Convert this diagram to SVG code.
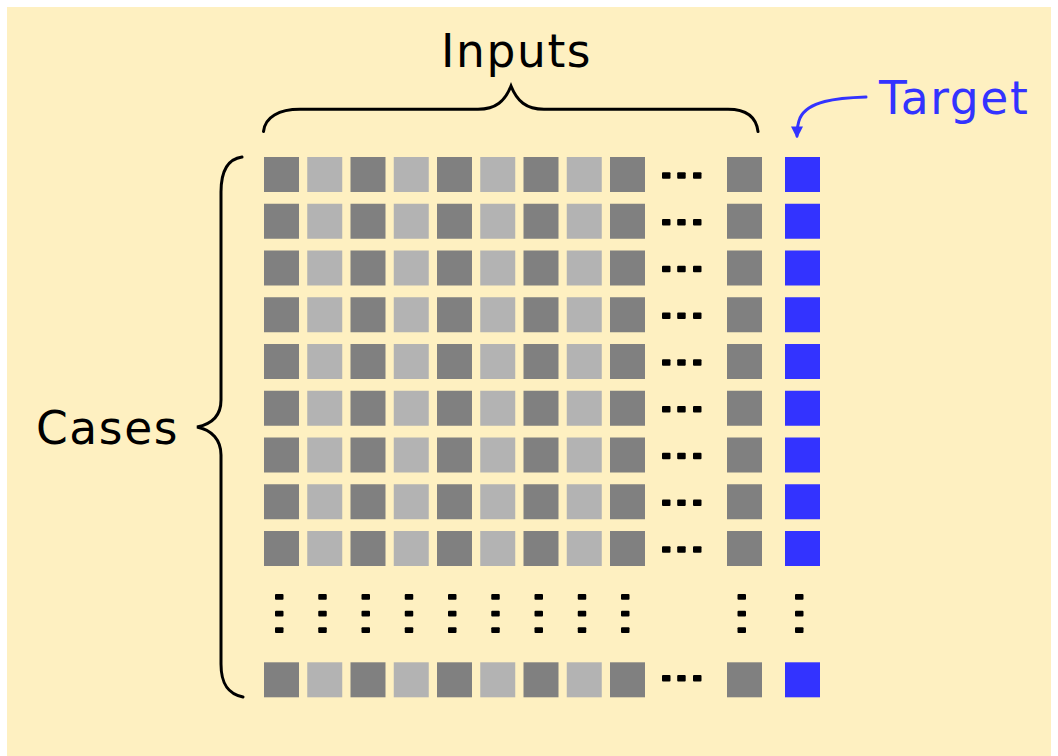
<svg xmlns="http://www.w3.org/2000/svg" width="1058" height="756" viewBox="0 0 1058 756">
<defs>
<style>
.lbl{font-family:"DejaVu Sans","Liberation Sans",sans-serif;font-size:45.5px;letter-spacing:1.6px;fill:#000}
.blue-t{fill:#3333FF}
.d{fill:#808080}
.l{fill:#B3B3B3}
.b{fill:#3333FF}
.dot{fill:#000}
.brace{fill:none;stroke:#000;stroke-width:3;stroke-linecap:round}
.conn{fill:none;stroke:#3333FF;stroke-width:3;stroke-linecap:round}
</style>
<marker id="ah" viewBox="0 0 10 10" refX="8" refY="5" markerWidth="4" markerHeight="4" orient="auto" markerUnits="strokeWidth">
<path d="M0,0 L10,5 L0,10 Z" fill="#3333FF"/>
</marker>
<g id="hdots">
<rect x="0" y="0" width="8.5" height="6.5" rx="1"/>
<rect x="15.2" y="0" width="8.5" height="6.5" rx="1"/>
<rect x="31" y="0" width="8.5" height="6.5" rx="1"/>
</g>
<g id="vdots">
<rect x="0" y="0" width="8.5" height="5.8" rx="1"/>
<rect x="0" y="16.7" width="8.5" height="5.8" rx="1"/>
<rect x="0" y="33.3" width="8.5" height="5.8" rx="1"/>
</g>
<g id="row">
<rect class="d" x="264" y="0" width="35" height="35"/>
<rect class="l" x="307.25" y="0" width="35" height="35"/>
<rect class="d" x="350.5" y="0" width="35" height="35"/>
<rect class="l" x="393.75" y="0" width="35" height="35"/>
<rect class="d" x="437" y="0" width="35" height="35"/>
<rect class="l" x="480.25" y="0" width="35" height="35"/>
<rect class="d" x="523.5" y="0" width="35" height="35"/>
<rect class="l" x="566.75" y="0" width="35" height="35"/>
<rect class="d" x="610" y="0" width="35" height="35"/>
<rect class="d" x="727" y="0" width="35" height="35"/>
<rect class="b" x="785" y="0" width="35" height="35"/>
</g>
</defs>
<rect id="background" x="7" y="7" width="1044" height="749" fill="#FEF0C1"/>

<g id="inputs-label"><text class="lbl" x="441" y="67">Inputs</text></g>
<g id="cases-label"><text class="lbl" x="36" y="443.5">Cases</text></g>
<g id="target-label"><text class="lbl blue-t" x="879" y="113.5">Target</text></g>

<g id="inputs-brace"><path class="brace" d="M263.5,131.5 C265,117 279,109.3 300,109.3 L478,109.3 C496,109.3 505,101 511,86 C517,101 526,109.3 544,109.3 L728,109.3 C745,109.3 756,116 758,131.5"/></g>
<g id="cases-brace"><path class="brace" d="M242,157 C228,159 221,170 221,192 L221,400 C221,415 212,424 197,427 C212,430 221,440 221,455 L221,664 C221,684 228,694 243,697"/></g>

<g id="grid">
<g id="row1"><use href="#row" y="157"/><use href="#hdots" class="dot" x="662" y="172.3"/></g>
<g id="row2"><use href="#row" y="203.75"/><use href="#hdots" class="dot" x="662" y="219"/></g>
<g id="row3"><use href="#row" y="250.5"/><use href="#hdots" class="dot" x="662" y="265.8"/></g>
<g id="row4"><use href="#row" y="297.25"/><use href="#hdots" class="dot" x="662" y="312.5"/></g>
<g id="row5"><use href="#row" y="344"/><use href="#hdots" class="dot" x="662" y="359.3"/></g>
<g id="row6"><use href="#row" y="390.75"/><use href="#hdots" class="dot" x="662" y="406"/></g>
<g id="row7"><use href="#row" y="437.5"/><use href="#hdots" class="dot" x="662" y="452.8"/></g>
<g id="row8"><use href="#row" y="484.25"/><use href="#hdots" class="dot" x="662" y="499.5"/></g>
<g id="row9"><use href="#row" y="531"/><use href="#hdots" class="dot" x="662" y="546.3"/></g>
<g id="ellipsis-row" class="dot">
<use href="#vdots" x="275" y="594"/>
<use href="#vdots" x="318.25" y="594"/>
<use href="#vdots" x="361.5" y="594"/>
<use href="#vdots" x="404.75" y="594"/>
<use href="#vdots" x="448" y="594"/>
<use href="#vdots" x="491.25" y="594"/>
<use href="#vdots" x="534.5" y="594"/>
<use href="#vdots" x="577.75" y="594"/>
<use href="#vdots" x="621" y="594"/>
<use href="#vdots" x="737.5" y="594"/>
<use href="#vdots" x="795" y="594"/>
</g>
<g id="row-last"><use href="#row" y="662.3"/><use href="#hdots" class="dot" x="662" y="675"/></g>
</g>

<g id="connectors">
<path class="conn" d="M866,97 C836,98 808,101 800,118 C797,125 797,131 797,136" marker-end="url(#ah)"/>
</g>
</svg>
